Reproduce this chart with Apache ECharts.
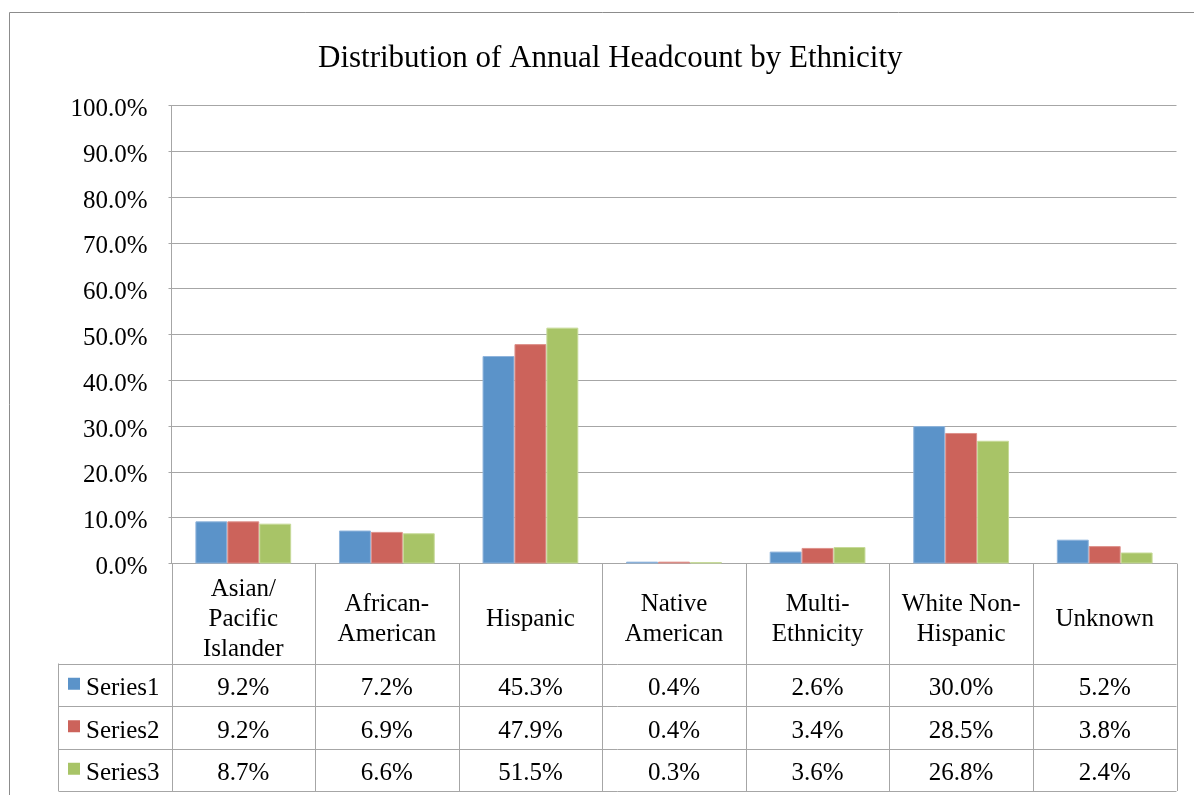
<!DOCTYPE html>
<html>
<head>
<meta charset="utf-8">
<script src="https://cdn.jsdelivr.net/npm/echarts@6/dist/echarts.min.js"></script>
<style>
html,body{margin:0;padding:0;background:#fff;}
#chart{width:1194px;height:795px;}
</style>
</head>
<body>
<div id="chart"></div>
<script>
const titleText = 'Distribution of Annual Headcount by Ethnicity';
const categories = ['Asian/\nPacific\nIslander', 'African-\nAmerican', 'Hispanic', 'Native\nAmerican', 'Multi-\nEthnicity', 'White Non-\nHispanic', 'Unknown'];
const seriesNames = ['Series1', 'Series2', 'Series3'];
const series1 = [9.2, 7.2, 45.3, 0.4, 2.6, 30.0, 5.2];
const series2 = [9.2, 6.9, 47.9, 0.4, 3.4, 28.5, 3.8];
const series3 = [8.7, 6.6, 51.5, 0.3, 3.6, 26.8, 2.4];
const yTicks = [0, 10, 20, 30, 40, 50, 60, 70, 80, 90, 100];

const colors = ['#5B93C9', '#CC635B', '#A8C467'];
const borders = ['#8FB4DC', '#DE918B', '#C6DA98'];
const lineColor = '#A6A6A6';
const font = '"Liberation Serif", "Times New Roman", serif';
const allSeries = [series1, series2, series3];

const chart = echarts.init(document.getElementById('chart'), null, {renderer: 'canvas'});

const gridLeft = 171.5, gridRight = 17.5, gridTop = 105.5, gridBottom = 231.5;

const option = {
  animation: false,
  backgroundColor: '#fff',
  title: {
    text: titleText,
    left: 313,
    top: 38,
    textStyle: {fontFamily: font, fontSize: 31, fontWeight: 'normal', color: '#000'}
  },
  grid: {left: gridLeft, right: gridRight, top: gridTop, bottom: gridBottom, containLabel: false},
  xAxis: {
    type: 'category',
    data: categories,
    axisLine: {show: true, lineStyle: {color: lineColor, width: 1}},
    axisTick: {show: false},
    axisLabel: {
      interval: 0,
      margin: 56,
      verticalAlign: 'middle',
      lineHeight: 30,
      fontFamily: font,
      fontSize: 25,
      color: '#000'
    }
  },
  yAxis: {
    type: 'value',
    min: yTicks[0],
    max: yTicks[yTicks.length - 1],
    interval: yTicks[1] - yTicks[0],
    axisLine: {show: true, lineStyle: {color: lineColor, width: 1}},
    axisTick: {show: true, length: 3, lineStyle: {color: lineColor}},
    splitLine: {show: true, lineStyle: {color: lineColor, width: 1}},
    axisLabel: {
      margin: 24,
      fontFamily: font,
      fontSize: 25,
      color: '#000',
      formatter: v => '{v|' + v.toFixed(1) + '%}',
      rich: {v: {fontFamily: font, fontSize: 25, color: '#000', padding: [8, 0, 0, 0]}}
    }
  },
  series: allSeries.map((d, i) => ({
    name: seriesNames[i],
    type: 'bar',
    data: d,
    barGap: '0%',
    barCategoryGap: '33.3%',
    itemStyle: {color: colors[i], borderColor: borders[i], borderWidth: 1}
  }))
};
chart.setOption(option);

// Build data table under the axis
function buildTable() {
  const g = [];
  const n = categories.length;
  const c0 = chart.convertToPixel({xAxisIndex: 0}, 0);
  const c1 = chart.convertToPixel({xAxisIndex: 0}, 1);
  const colW = c1 - c0;
  const axisY = chart.convertToPixel({yAxisIndex: 0}, 0);
  const headerH = 100;
  const rowH = 42.5;
  const tableLeft = 57.7;
  const xLeft = c0 - colW / 2;
  const xRight = xLeft + n * colW;
  const headerBottom = axisY + headerH;
  const tableBottom = headerBottom + rowH * seriesNames.length;
  const ls = {stroke: lineColor, lineWidth: 1};
  const textDy = 4;

  for (let k = 0; k <= n; k++) {
    const x = Math.round(xLeft + k * colW) + 0.5;
    g.push({type: 'line', shape: {x1: x, y1: axisY, x2: x, y2: tableBottom}, style: ls, silent: true});
  }
  const lx = Math.round(tableLeft) + 0.5;
  g.push({type: 'line', shape: {x1: lx, y1: headerBottom, x2: lx, y2: tableBottom}, style: ls, silent: true});
  for (let r = 0; r <= seriesNames.length; r++) {
    const y = Math.round(headerBottom + r * rowH) + 0.5;
    g.push({type: 'line', shape: {x1: lx, y1: y, x2: xRight, y2: y}, style: ls, silent: true});
  }
  allSeries.forEach((d, r) => {
    const cy = headerBottom + r * rowH + rowH / 2;
    g.push({type: 'rect', shape: {x: 68, y: cy - 7, width: 12, height: 12}, style: {fill: colors[r]}, silent: true});
    g.push({type: 'text', x: 86, y: cy + textDy, style: {text: seriesNames[r], font: '25px ' + font, fill: '#000', textAlign: 'left', textVerticalAlign: 'middle'}, silent: true});
    d.forEach((v, k) => {
      const cx = chart.convertToPixel({xAxisIndex: 0}, k);
      g.push({type: 'text', x: cx, y: cy + textDy, style: {text: v.toFixed(1) + '%', font: '25px ' + font, fill: '#000', textAlign: 'center', textVerticalAlign: 'middle'}, silent: true});
    });
  });
  g.push({type: 'rect', shape: {x: 9.5, y: 12.5, width: 1300, height: 900}, style: {fill: 'none', stroke: '#8C8C8C', lineWidth: 1}, silent: true, z: 100});
  chart.setOption({graphic: g});
}
buildTable();
</script>
</body>
</html>
